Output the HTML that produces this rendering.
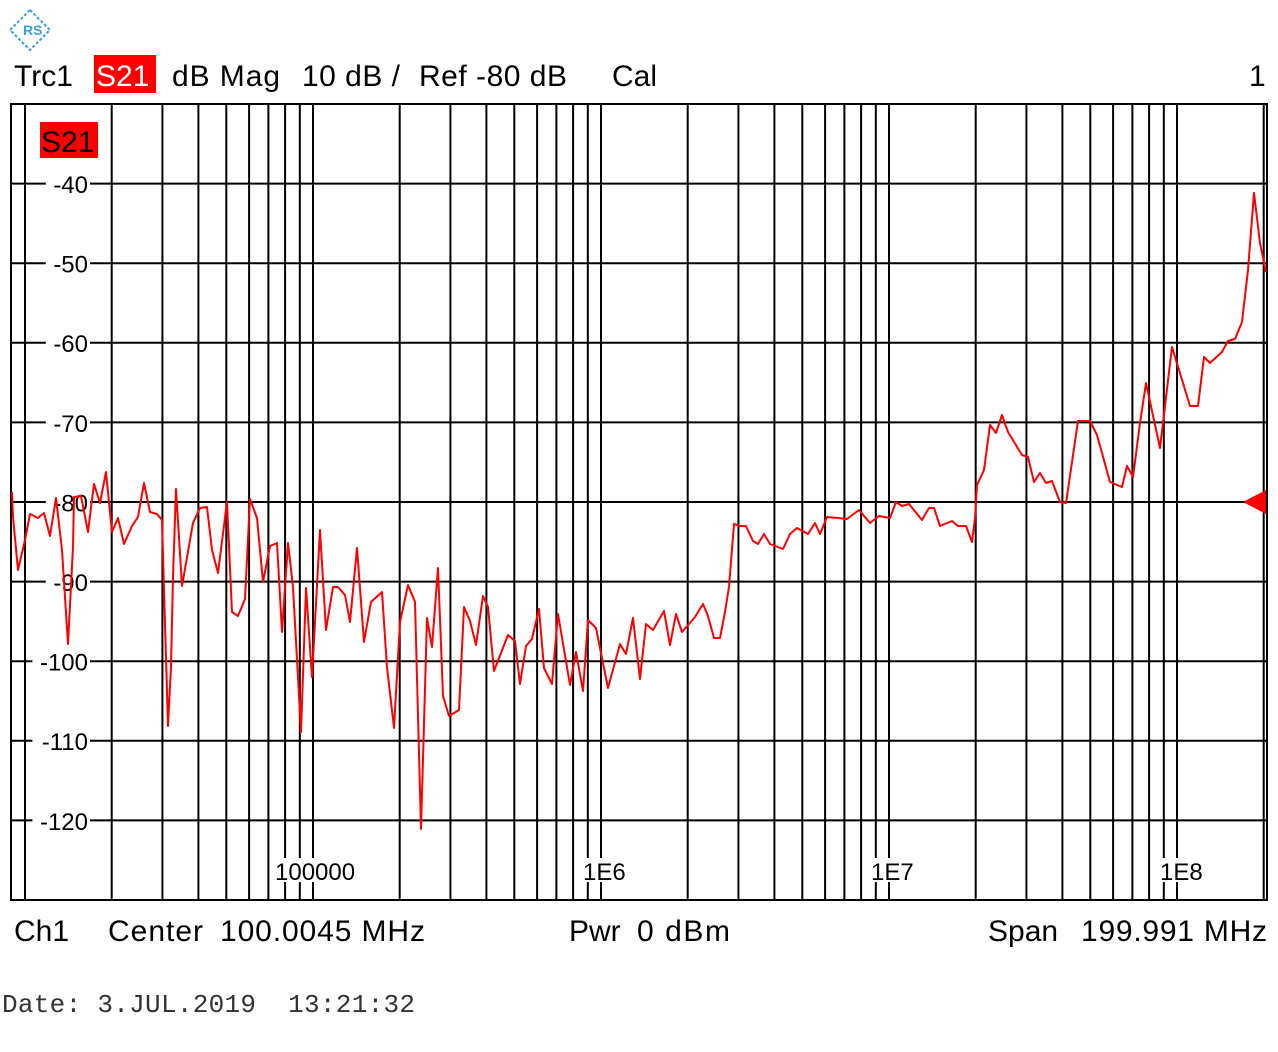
<!DOCTYPE html>
<html><head><meta charset="utf-8"><style>
html,body{margin:0;padding:0;background:#fff;width:1278px;height:1052px;overflow:hidden}
svg{display:block}
text{font-family:"Liberation Sans",Arial,sans-serif}
</style></head><body>
<svg id="s" width="1278" height="1052" xmlns="http://www.w3.org/2000/svg">
<g id="grid" stroke="#000" stroke-width="2"></g>
<rect x="11" y="104" width="1256" height="796" fill="none" stroke="#000" stroke-width="2"/>
<g id="lab" font-size="24"></g>
<g transform="translate(30,30)" fill="none" stroke="#3aa0e0" stroke-width="2">
<polygon points="0,-20 20,0 0,20 -20,0" stroke-dasharray="3,2"/>
<text x="-7" y="5" font-size="14" fill="#3aa0e0" stroke="none" font-weight="bold">RS</text>
</g>
<text x="14" y="86" font-size="30">Trc1</text>
<rect x="94" y="55" width="62" height="38" fill="#ff0000"/>
<text x="96" y="86" font-size="30" fill="#fff">S21</text>
<text x="172" y="86" font-size="30" textLength="108">dB Mag</text>
<text x="302" y="86" font-size="30" textLength="98">10 dB /</text>
<text x="419" y="86" font-size="30" textLength="148">Ref -80 dB</text>
<text x="612" y="86" font-size="30">Cal</text>
<text x="1249" y="86" font-size="30">1</text>
<rect x="40" y="122" width="58" height="36" fill="#ff0000"/>
<text x="41" y="152" font-size="30" fill="#000">S21</text>
<polyline fill="none" stroke="#ff0000" stroke-width="2" stroke-linejoin="round" points="
12,492 13,517 18,570 25,540 30,514 38,518 44,513 50,536 56,498 62,550 68,644 73,547 74,497 81,496 88,532 94,484 100,503 106,472 112,532 118,518 124,544 132,526 138,517 144,483 150,512 157,514 162,520 168,726 171,667 173,577 176,489 182,586 193,523 200,508 207,507 212,550 218,573 227,502 232,612 238,616 245,599 250,499 257,518 263,582 270,546 277,543 282,632 288,543 293,587 301,732 306,588 312,677 320,530 326,630 333,587 338,587 345,595 350,622 357,548 364,642 371,602 382,592 387,667 394,728 400,622 408,585 415,602 421,829 427,618 432,647 438,568 443,696 449,716 459,710 464,607 470,621 476,645 483,596 488,607 494,671 508,635 515,641 520,684 526,646 532,639 539,609 544,668 552,684 558,614 570,685 576,652 583,691 588,620 596,628 608,688 620,644 626,654 633,618 640,679 646,624 653,630 664,611 670,645 676,614 682,632 695,617 703,604 708,616 714,638 720,638 725,612 729,587 734,524 740,526 746,526 753,541 758,544 764,534 770,544 783,549 790,534 797,528 808,534 815,523 820,534 827,517 838,518 847,519 859,510 870,523 879,516 890,518 896,502 902,506 909,504 922,520 929,508 934,508 940,526 952,521 958,526 966,526 972,542 975,518 977,485 984,470 990,425 996,433 1002,415 1008,432 1022,455 1028,457 1034,482 1040,473 1046,483 1052,481 1060,502 1066,503 1078,421 1090,421 1097,435 1110,482 1122,487 1127,466 1133,477 1140,423 1146,383 1160,448 1172,347 1190,406 1198,406 1204,357 1210,363 1222,352 1228,341 1235,339 1242,322 1248,270 1254,193 1260,243 1266,272"/>
<polygon points="1243,502 1266,490 1266,514" fill="#ff0000"/>
<text x="14" y="941" font-size="30">Ch1</text>
<text x="108" y="941" font-size="30" textLength="95">Center</text>
<text x="220" y="941" font-size="30" textLength="205">100.0045 MHz</text>
<text x="569" y="941" font-size="30">Pwr</text>
<text x="637" y="941" font-size="30" textLength="93">0 dBm</text>
<text x="988" y="941" font-size="30">Span</text>
<text x="1081" y="941" font-size="30" textLength="186">199.991 MHz</text>
<text x="2" y="1012" font-size="26" fill="#333" style="font-family:'Liberation Mono',monospace" textLength="413" xml:space="preserve">Date: 3.JUL.2019  13:21:32</text>
</svg>
<script>
var g=document.getElementById('grid'),lab=document.getElementById('lab'),NS='http://www.w3.org/2000/svg';
function el(p,t,a,txt){var e=document.createElementNS(NS,t);for(var k in a)e.setAttribute(k,a[k]);if(txt)e.textContent=txt;p.appendChild(e);return e;}
for(var k=0;k<5;k++)for(var m=1;m<=9;m++){if(k==4&&m>2)break;var x=25+288*(k+Math.log10(m));if(x>1265)continue;el(g,'line',{x1:x,y1:104,x2:x,y2:900});}
for(var i=1;i<=9;i++){var y=104+79.6*i;el(g,'line',{x1:11,y1:y,x2:1267,y2:y});}
var vals=[-40,-50,-60,-70,-80,-90,-100,-110,-120];
vals.forEach(function(v,i){var y=184+79.6*i;var s=String(v);var w=s.length*13.4;
el(lab,'rect',{x:88-w-2,y:y-12,width:w+4,height:24,fill:'#fff'});
el(lab,'text',{x:88,y:y+9,'text-anchor':'end'},s);});
[['100000',275],['1E6',583],['1E7',871],['1E8',1160]].forEach(function(a){var w=a[0].length*13.4;
el(lab,'rect',{x:a[1],y:858,width:w,height:24,fill:'#fff'});
el(lab,'text',{x:a[1],y:880},a[0]);});
</script>
</body></html>
